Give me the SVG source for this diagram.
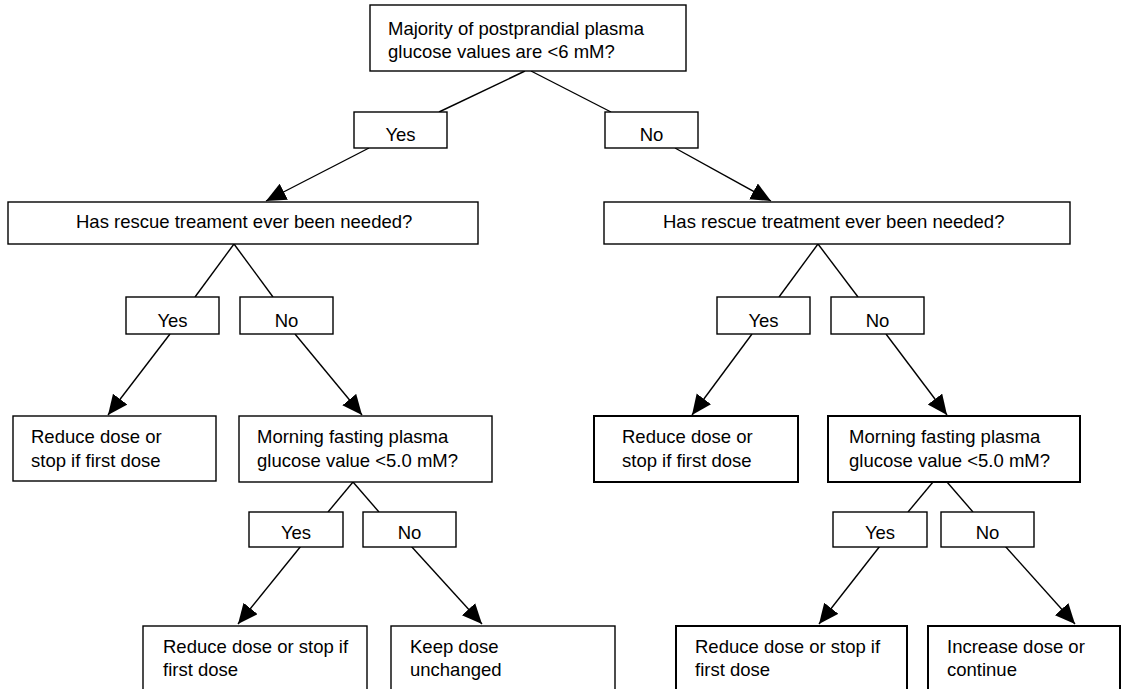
<svg xmlns="http://www.w3.org/2000/svg" width="1123" height="689" viewBox="0 0 1123 689">
<style>
.box{fill:#fff;stroke:#000;stroke-width:1.4}
.thick{stroke-width:2}
.t{font-family:"Liberation Sans",Arial,sans-serif;font-size:18.5px;fill:#000}
.c{text-anchor:middle}
.ln{stroke:#000;stroke-width:1.4;fill:none}
.ar{marker-end:url(#ah)}
</style>
<defs>
<marker id="ah" markerUnits="userSpaceOnUse" markerWidth="22" markerHeight="20" refX="20" refY="9" orient="auto">
<path d="M0,0 L20,9 L0,18 Z" fill="#000"/>
</marker>
</defs>
<rect width="1123" height="689" fill="#fff"/>
<g id="connectors">
<line class="ln" x1="525" y1="71" x2="439" y2="112"/>
<line class="ln" x1="531" y1="71" x2="611" y2="112"/>
<line class="ln ar" x1="369" y1="148" x2="266" y2="201"/>
<line class="ln ar" x1="675" y1="148" x2="771" y2="201"/>
<line class="ln" x1="234" y1="244" x2="195" y2="297"/>
<line class="ln" x1="234" y1="244" x2="273" y2="297"/>
<line class="ln" x1="818" y1="244" x2="779" y2="297"/>
<line class="ln" x1="818" y1="244" x2="858" y2="297"/>
<line class="ln ar" x1="170" y1="334" x2="108" y2="415"/>
<line class="ln ar" x1="295" y1="334" x2="362" y2="415"/>
<line class="ln ar" x1="752" y1="334" x2="692" y2="415"/>
<line class="ln ar" x1="886" y1="334" x2="947" y2="415"/>
<line class="ln" x1="353" y1="482" x2="328" y2="512"/>
<line class="ln" x1="353" y1="482" x2="379" y2="512"/>
<line class="ln" x1="933" y1="482" x2="908" y2="512"/>
<line class="ln" x1="947" y1="482" x2="973" y2="512"/>
<line class="ln ar" x1="301" y1="546" x2="238" y2="624"/>
<line class="ln ar" x1="411" y1="546" x2="482" y2="624"/>
<line class="ln ar" x1="880" y1="546" x2="819" y2="624"/>
<line class="ln ar" x1="1005" y1="546" x2="1075" y2="624"/>
</g>
<g id="q1">
<rect class="box" x="370" y="5" width="316" height="66"/>
<text class="t" x="388" y="35">Majority of postprandial plasma</text>
<text class="t" x="388" y="58">glucose values are &lt;6 mM?</text>
</g>
<g id="yes1"><rect class="box" x="354" y="112" width="93" height="36"/><text class="t c" x="400.5" y="141">Yes</text></g>
<g id="no1"><rect class="box" x="605" y="112" width="93" height="36"/><text class="t c" x="651.5" y="141">No</text></g>
<g id="q2l">
<rect class="box" x="8" y="202" width="470" height="42"/>
<text class="t" x="76" y="228">Has rescue treament ever been needed?</text>
</g>
<g id="q2r">
<rect class="box" x="604" y="202" width="466" height="42"/>
<text class="t" x="663" y="228">Has rescue treatment ever been needed?</text>
</g>
<g id="yes2l"><rect class="box" x="126" y="297" width="93" height="37"/><text class="t c" x="172.5" y="327">Yes</text></g>
<g id="no2l"><rect class="box" x="240" y="297" width="93" height="37"/><text class="t c" x="286.5" y="327">No</text></g>
<g id="yes2r"><rect class="box" x="717" y="297" width="93" height="37"/><text class="t c" x="763.5" y="327">Yes</text></g>
<g id="no2r"><rect class="box" x="831" y="297" width="93" height="37"/><text class="t c" x="877.5" y="327">No</text></g>
<g id="reduce1l">
<rect class="box" x="13" y="416" width="203" height="65"/>
<text class="t" x="31" y="443">Reduce dose or</text>
<text class="t" x="31" y="467">stop if first dose</text>
</g>
<g id="morningl">
<rect class="box" x="239" y="416" width="253" height="66"/>
<text class="t" x="257" y="443">Morning fasting plasma</text>
<text class="t" x="257" y="467">glucose value &lt;5.0 mM?</text>
</g>
<g id="reduce1r">
<rect class="box thick" x="594" y="416" width="204" height="66"/>
<text class="t" x="622" y="443">Reduce dose or</text>
<text class="t" x="622" y="467">stop if first dose</text>
</g>
<g id="morningr">
<rect class="box thick" x="828" y="416" width="252" height="66"/>
<text class="t" x="849" y="443">Morning fasting plasma</text>
<text class="t" x="849" y="467">glucose value &lt;5.0 mM?</text>
</g>
<g id="yes3l"><rect class="box" x="249" y="512" width="94" height="35"/><text class="t c" x="296" y="539">Yes</text></g>
<g id="no3l"><rect class="box" x="363" y="512" width="93" height="35"/><text class="t c" x="409.5" y="539">No</text></g>
<g id="yes3r"><rect class="box" x="833" y="512" width="94" height="35"/><text class="t c" x="880" y="539">Yes</text></g>
<g id="no3r"><rect class="box" x="941" y="512" width="93" height="35"/><text class="t c" x="987.5" y="539">No</text></g>
<g id="reduce2l">
<rect class="box" x="143" y="626" width="224" height="80"/>
<text class="t" x="163" y="653">Reduce dose or stop if</text>
<text class="t" x="163" y="676">first dose</text>
</g>
<g id="keep">
<rect class="box" x="391" y="626" width="224" height="80"/>
<text class="t" x="410" y="653">Keep dose</text>
<text class="t" x="410" y="676">unchanged</text>
</g>
<g id="reduce2r">
<rect class="box thick" x="676" y="626" width="231" height="80"/>
<text class="t" x="695" y="653">Reduce dose or stop if</text>
<text class="t" x="695" y="676">first dose</text>
</g>
<g id="increase">
<rect class="box thick" x="928" y="626" width="192" height="80"/>
<text class="t" x="947" y="653">Increase dose or</text>
<text class="t" x="947" y="676">continue</text>
</g>
</svg>
